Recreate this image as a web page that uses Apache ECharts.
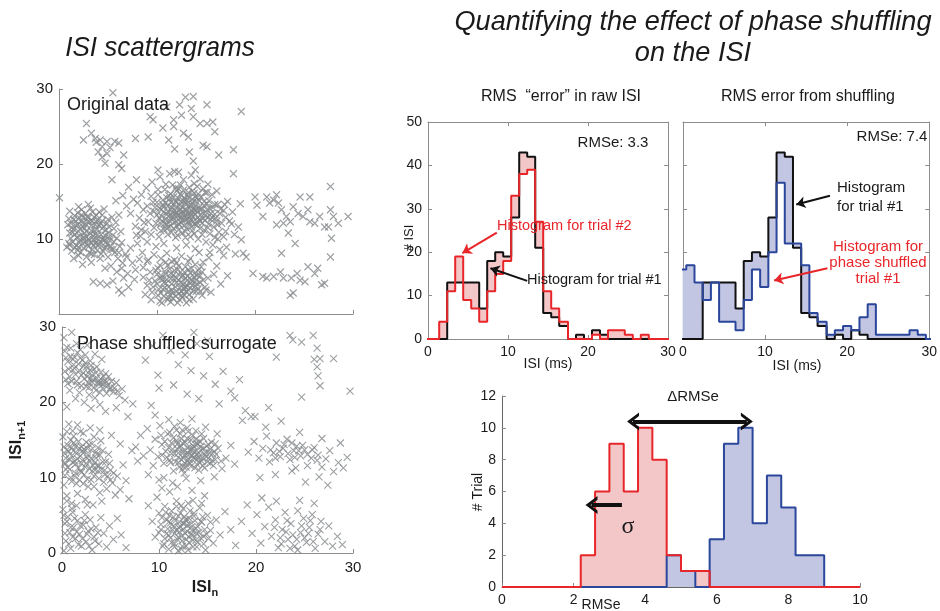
<!DOCTYPE html>
<html>
<head>
<meta charset="utf-8">
<script src="https://cdn.jsdelivr.net/npm/echarts@6.0.0/dist/echarts.min.js"></script>
<style>
html, body { margin: 0; padding: 0; background: #fff; }
#mychart { width: 940px; height: 611px; }
</style>
</head>
<body>
<div id="mychart"></div>
<script>
// ---- scattergram: original data ----
var origClusterA = [[1.2,12.1],[1.5,11.3],[1.8,10.2],[1.4,9.6],[2.1,12.8],[2.4,11.7],[2.6,10.8],[2.2,9.9],[2.9,9.2],[3.1,12.3],[3.3,11.1],[3.5,10.4],[3.0,10.0],[3.8,9.6],[2.7,13.4],[3.6,12.9],[4.1,11.8],[4.3,10.6],[4.0,9.1],[4.6,9.8],[4.8,11.2],[5.1,10.3],[5.3,9.0],[4.5,8.4],[3.4,8.6],[2.5,8.8],[1.9,8.5],[1.1,10.8],[0.9,11.9],[1.6,13.1],[2.3,13.9],[3.2,14.1],[4.4,13.2],[5.0,12.6],[5.6,11.4],[5.9,10.1],[6.2,9.0],[5.7,8.2],[5.0,7.6],[4.2,7.4],[3.6,7.9],[2.8,7.6],[2.0,7.8],[1.3,8.4],[1.0,9.4],[2.0,11.0],[2.8,11.9],[3.9,11.3],[4.7,10.5],[3.3,9.5],[2.5,10.2],[1.7,12.4],[3.8,12.3],[4.9,9.3],[5.5,8.6],[6.0,7.4],[6.5,6.8],[6.8,8.0],[6.3,11.0],[5.4,12.9],[4.6,14.0],[3.0,14.6],[2.0,14.3],[1.1,13.7],[0.8,8.9],[1.5,7.4],[2.4,6.6],[3.3,6.9],[3.7,10.7],[4.4,12.4]];
var origCoreA = [[1.3,11.5],[1.6,10.6],[1.9,11.9],[2.1,10.4],[2.3,12.4],[2.4,9.4],[2.6,11.4],[2.8,10.3],[3.0,12.8],[3.1,9.8],[3.3,11.8],[3.5,9.1],[3.6,11.1],[3.9,10.1],[4.0,12.6],[4.2,9.6],[4.4,11.4],[4.6,10.1],[4.8,8.9],[5.1,11.6],[1.2,10.1],[1.8,9.1],[2.2,8.2],[3.1,8.2],[3.9,8.5],[5.2,9.8],[5.6,9.6],[2.9,13.0],[4.1,13.6],[1.9,13.5],[1.0,12.7],[2.5,12.9],[3.4,13.6],[4.9,12.1],[5.8,12.2],[2.7,9.6],[3.7,9.4],[1.6,8.9],[6.1,8.2],[4.3,8.0]];
var origCoreA2 = [[1.4,10.9],[1.7,11.8],[2.0,9.6],[2.2,11.3],[2.4,12.1],[2.6,10.1],[2.8,11.0],[3.0,9.0],[3.2,10.7],[3.4,12.4],[3.5,9.9],[3.7,11.9],[3.9,10.5],[4.1,9.3],[4.2,12.1],[4.4,10.0],[4.6,11.7],[4.8,9.6],[5.0,10.8],[5.3,8.6],[1.5,12.6],[2.3,13.2],[3.8,13.2],[1.1,9.2],[2.0,8.9],[3.3,8.0],[4.6,8.8],[5.5,10.5],[6.4,9.5],[2.9,12.3]];
var origBridge = [[6.4,6.1],[7.0,5.4],[7.5,6.8],[7.8,5.9],[8.2,7.3],[6.9,7.6],[7.3,8.8],[8.0,9.4],[8.5,8.2],[7.7,4.6],[6.6,4.8],[5.9,5.6],[5.3,6.4],[4.7,6.1],[6.1,3.2],[6.4,2.8],[7.1,3.6],[5.5,4.4],[3.5,4.3],[4.2,4.1],[4.9,3.9],[8.6,6.2],[9.0,7.0],[7.9,10.5],[8.4,11.2]];
var origClusterC = [[8.6,4.9],[9.0,3.8],[9.3,5.6],[9.5,2.9],[9.8,4.4],[10.1,6.1],[10.2,3.3],[10.5,5.0],[10.7,2.4],[10.9,4.1],[11.1,6.5],[11.2,3.0],[11.4,5.4],[11.6,2.1],[11.7,4.7],[11.9,3.6],[12.1,5.9],[12.2,2.7],[12.4,4.2],[12.6,5.1],[12.8,3.3],[12.9,6.3],[13.1,4.5],[13.3,2.6],[13.4,5.5],[13.6,3.8],[13.8,4.9],[14.0,3.0],[14.2,5.8],[14.4,4.2],[14.6,2.5],[14.9,3.6],[15.2,4.8],[15.5,2.9],[15.8,5.3],[9.1,7.2],[9.7,7.9],[10.4,7.4],[11.0,8.1],[11.8,7.2],[12.5,7.7],[13.2,7.0],[13.9,6.6],[14.7,6.9],[15.3,7.5],[16.1,6.4],[16.5,4.0],[8.8,2.6],[9.4,1.9],[10.3,1.7],[11.4,1.6],[12.3,1.9],[13.0,1.5],[13.7,2.0],[10.0,5.3],[10.8,3.5],[11.5,4.0],[12.0,4.8],[12.7,4.0],[13.5,4.6],[14.1,4.0],[11.3,2.6],[12.5,3.0],[10.6,4.6],[13.0,3.9],[17.2,5.1],[16.8,7.8],[14.3,8.2]];
var origCoreC = [[9.6,3.6],[9.9,5.8],[10.1,2.5],[10.3,4.8],[10.6,3.3],[10.8,5.7],[11.0,4.6],[11.2,2.2],[11.3,6.0],[11.5,3.2],[11.7,5.2],[11.9,2.4],[12.0,4.2],[12.2,6.4],[12.3,3.5],[12.5,4.9],[12.6,2.2],[12.8,5.6],[12.9,3.6],[13.1,5.0],[13.2,3.2],[13.4,4.1],[13.5,6.1],[13.7,3.0],[13.8,5.4],[14.0,4.5],[14.2,3.4],[14.4,5.1],[14.7,4.5],[15.0,3.2],[10.9,6.9],[12.0,6.8],[13.4,7.4],[9.2,4.5],[10.5,1.5],[12.8,2.5]];
var origCoreC2 = [[10.0,4.0],[10.4,2.8],[10.7,4.2],[10.9,5.3],[11.2,3.6],[11.4,4.7],[11.6,2.8],[11.8,5.8],[12.0,3.0],[12.2,4.5],[12.4,5.6],[12.5,2.5],[12.7,3.5],[12.9,4.8],[13.0,2.9],[13.2,5.9],[13.4,3.5],[13.6,4.4],[13.9,3.7],[14.1,5.2],[14.4,3.0],[14.6,5.6],[11.1,1.9],[12.1,1.5],[13.3,1.9],[10.3,6.5],[11.5,7.0],[14.5,6.3]];
var origClusterB = [[10.0,13.2],[10.3,14.1],[10.5,12.4],[10.7,13.6],[10.9,14.8],[11.0,12.0],[11.2,13.1],[11.3,15.4],[11.5,14.2],[11.6,12.6],[11.8,13.8],[11.9,15.0],[12.0,11.7],[12.1,13.2],[12.3,14.5],[12.4,12.2],[12.5,15.8],[12.6,13.7],[12.8,12.9],[12.9,14.9],[13.0,11.4],[13.1,13.4],[13.2,16.2],[13.3,14.1],[13.5,12.5],[13.6,15.3],[13.7,13.0],[13.9,14.4],[14.0,11.9],[14.1,13.6],[14.3,15.1],[14.4,12.4],[14.6,14.0],[14.8,11.2],[14.9,13.1],[15.1,14.7],[15.3,12.0],[15.5,13.4],[15.8,11.6],[16.0,12.8],[16.3,10.9],[16.6,12.1],[17.0,11.0],[17.4,12.4],[17.9,10.6],[18.3,11.6],[16.2,14.6],[16.8,13.8],[15.6,15.9],[14.7,16.7],[13.8,17.4],[12.7,17.9],[11.6,17.2],[10.8,16.6],[10.1,15.9],[9.6,14.9],[9.3,13.4],[9.1,12.3],[9.7,11.5],[10.4,11.1],[11.1,10.6],[11.9,10.2],[12.6,10.8],[13.4,10.3],[14.2,10.0],[15.0,9.6],[15.7,9.2],[16.4,8.6],[8.6,13.9],[8.2,12.8],[8.0,14.8],[8.4,15.9],[8.9,16.8],[9.5,17.6],[10.3,18.3],[11.3,18.7],[12.2,18.9],[13.5,18.5],[14.4,18.0],[15.2,17.3],[16.1,16.4],[17.2,15.0],[17.7,13.6],[18.5,14.7],[7.6,15.3],[7.3,13.4],[7.8,11.7],[8.3,10.4],[9.0,9.6],[9.9,9.0],[10.7,9.4],[12.0,8.8],[13.0,9.2],[13.9,8.7],[15.4,8.2],[11.4,13.9],[12.2,12.6],[12.9,13.9],[13.6,13.7],[12.4,14.0],[11.7,11.4],[13.3,12.1],[14.5,13.3],[10.6,14.6],[12.0,16.4],[13.0,15.2],[11.0,11.4],[14.2,16.0],[15.9,10.2],[7.1,16.9],[7.9,17.9],[6.9,14.4],[6.5,15.8],[5.8,15.1],[6.1,13.2],[17.1,8.9],[18.0,8.0],[18.6,9.9]];
var origCoreB = [[10.2,12.8],[10.4,13.9],[10.6,15.2],[10.8,12.1],[11.0,13.3],[11.1,14.4],[11.3,12.4],[11.4,16.0],[11.5,13.0],[11.7,14.7],[11.8,12.2],[12.0,13.6],[12.1,15.5],[12.2,11.2],[12.3,13.9],[12.5,12.9],[12.6,14.3],[12.7,16.5],[12.8,11.8],[12.9,13.2],[13.0,14.6],[13.1,12.7],[13.2,15.6],[13.4,13.5],[13.5,11.6],[13.6,14.8],[13.7,12.3],[13.8,16.1],[13.9,13.3],[14.0,15.0],[14.2,12.9],[14.3,14.2],[14.4,11.4],[14.5,15.6],[14.7,12.7],[14.8,14.5],[15.0,13.6],[15.2,11.5],[15.3,15.1],[15.5,12.6],[15.7,14.2],[15.9,13.3],[16.2,11.9],[16.4,13.4],[9.8,14.2],[9.9,12.1],[10.1,16.6],[10.9,17.3],[11.9,16.8],[12.4,17.2],[13.3,16.9],[14.1,17.0],[9.4,15.7],[9.0,14.4],[8.7,12.2],[9.4,10.6],[10.2,10.3],[11.4,11.8],[12.1,10.5],[12.9,10.2],[13.6,11.1],[14.6,10.6],[15.4,10.7],[16.8,10.3],[11.2,15.8],[12.8,15.4],[13.3,13.0],[12.6,12.4],[11.6,13.4],[13.9,13.9],[11.9,14.2],[12.4,15.0],[13.5,14.6],[12.2,12.0],[14.1,12.2],[10.7,11.3],[15.1,16.2],[16.9,14.6],[17.6,12.0],[8.8,11.0]];
var origCoreB2 = [[10.5,13.0],[10.7,14.3],[10.9,12.6],[11.1,13.7],[11.2,11.6],[11.4,14.9],[11.6,12.9],[11.7,15.6],[11.9,13.3],[12.0,14.9],[12.2,13.1],[12.3,11.9],[12.4,16.0],[12.6,13.3],[12.7,15.1],[12.8,12.5],[13.0,13.8],[13.1,15.9],[13.2,12.3],[13.3,14.5],[13.5,13.1],[13.6,16.4],[13.7,14.0],[13.8,12.0],[14.0,13.8],[14.1,15.5],[14.3,12.6],[14.4,13.9],[14.6,12.1],[14.8,15.0],[14.9,12.5],[15.1,13.9],[15.2,12.9],[15.4,14.1],[15.6,12.9],[15.9,14.6],[16.1,12.4],[16.5,14.0],[17.0,12.9],[11.0,15.5],[10.4,12.0],[12.2,16.7],[13.9,15.6],[14.9,16.2],[12.9,11.0],[13.8,10.7],[11.5,10.9],[10.0,14.9],[9.7,13.7],[16.2,10.0]];
var origSparse = [[5.5,29.5],[12.9,28.9],[13.7,29.0],[11.0,27.6],[12.3,27.9],[13.5,27.4],[15.1,27.9],[18.6,27.0],[9.3,26.3],[9.6,25.9],[11.7,25.9],[12.5,26.5],[13.7,26.3],[14.4,25.4],[15.1,25.4],[15.7,25.6],[10.6,24.8],[11.7,25.0],[12.7,24.1],[13.2,23.6],[9.1,23.6],[11.2,23.2],[14.7,22.5],[15.1,22.3],[15.9,24.3],[11.8,22.0],[13.3,21.6],[17.8,21.9],[16.3,21.2],[13.7,20.4],[13.9,19.2],[10.1,19.2],[17.8,18.7],[11.8,19.0],[2.8,25.4],[3.3,24.1],[3.7,23.4],[3.8,22.9],[4.2,23.2],[4.4,22.3],[2.5,23.2],[4.9,23.0],[5.7,23.0],[6.1,22.8],[4.0,21.6],[4.4,20.9],[4.9,21.4],[5.2,22.2],[4.7,20.1],[6.1,19.9],[6.4,19.4],[6.6,21.2],[7.8,23.4],[5.4,17.9],[0.05,15.5],[20.0,15.6],[21.2,15.6],[22.2,15.9],[21.5,14.8],[20.2,14.5],[20.8,13.0],[22.7,13.9],[23.2,13.0],[22.9,12.1],[22.2,11.9],[23.6,12.3],[23.9,14.3],[24.4,13.4],[24.9,13.0],[25.4,13.9],[25.6,12.3],[26.1,12.1],[26.6,13.0],[27.1,11.6],[27.7,17.0],[27.7,13.9],[28.0,13.0],[28.5,12.1],[29.5,13.0],[27.5,11.6],[24.6,15.6],[25.6,15.6],[27.7,7.6],[27.8,10.1],[22.7,8.1],[24.1,9.4],[23.4,10.8],[21.9,15.2],[22.4,14.8],[19.8,5.4],[20.8,5.0],[21.2,4.8],[21.9,5.0],[22.6,5.6],[22.9,4.8],[23.7,4.8],[24.3,5.4],[24.6,4.5],[25.1,4.3],[25.4,6.3],[26.1,5.4],[26.4,6.1],[26.8,3.9],[27.1,4.1],[23.9,2.8],[23.6,2.5],[19.1,7.6],[18.8,8.1]];

// ---- scattergram: phase shuffled surrogate ----
var shufTopLeft = [[0.3,26.8],[0.6,25.4],[0.9,27.2],[1.1,24.3],[1.3,26.0],[1.5,22.8],[1.7,25.1],[1.9,27.0],[2.0,23.6],[2.2,24.8],[2.4,26.3],[2.5,22.1],[2.7,23.9],[2.9,25.5],[3.1,22.7],[3.3,24.4],[3.5,21.6],[3.6,23.2],[3.8,22.4],[4.0,24.0],[4.2,21.9],[4.4,22.9],[4.6,21.2],[4.8,23.4],[5.0,22.0],[5.3,21.4],[5.6,22.6],[5.9,20.9],[6.2,21.8],[6.5,20.3],[0.4,23.0],[0.8,21.6],[1.4,20.5],[2.3,20.0],[3.0,19.2],[3.9,19.7],[4.5,18.8],[5.6,19.3],[6.8,18.1],[7.3,19.8],[0.2,28.6],[1.0,29.3],[2.6,27.6],[3.4,26.4],[4.1,25.7],[0.5,19.4],[1.8,21.3],[2.8,21.0],[3.4,20.6]];
var shufCoreTopLeft = [[0.4,25.9],[0.7,24.4],[0.9,26.1],[1.2,25.0],[1.4,23.7],[1.6,26.6],[1.8,24.2],[2.1,25.6],[2.3,23.1],[2.5,24.7],[2.7,22.6],[2.9,24.3],[3.1,23.6],[3.3,22.0],[3.5,23.9],[3.7,22.7],[4.0,23.1],[4.2,22.4],[4.5,23.8],[4.7,22.2],[5.1,22.8],[5.4,21.9],[0.3,24.1],[1.0,22.8],[2.0,22.2],[2.9,23.1],[3.9,21.3]];
var shufCoreTopLeft2 = [[0.5,27.3],[0.8,23.4],[1.1,25.7],[1.3,24.5],[1.6,22.3],[1.9,25.9],[2.2,23.9],[2.4,25.2],[2.6,23.4],[2.8,22.0],[3.0,24.9],[3.2,23.0],[3.6,24.7],[3.9,22.6],[4.3,23.4],[4.6,22.7],[4.9,21.7],[5.7,21.5],[0.6,22.5],[1.5,27.8]];
var shufMidLeft = [[0.1,15.4],[0.3,13.2],[0.4,11.1],[0.6,14.3],[0.8,12.4],[0.9,10.0],[1.1,16.2],[1.2,13.6],[1.4,11.8],[1.5,9.2],[1.7,14.8],[1.9,12.9],[2.0,10.7],[2.2,15.9],[2.3,13.8],[2.5,11.9],[2.6,9.8],[2.8,14.4],[3.0,12.6],[3.1,10.9],[3.3,8.8],[3.5,13.4],[3.6,11.6],[3.8,9.9],[4.0,14.9],[4.2,12.1],[4.4,10.4],[4.6,8.5],[4.8,13.1],[5.0,11.0],[5.2,9.3],[5.5,7.7],[5.7,10.2],[6.0,8.4],[6.3,11.7],[6.6,9.6],[6.9,7.2],[0.2,9.0],[0.5,7.6],[1.0,6.6],[1.6,7.9],[2.4,7.1],[3.2,6.4],[4.1,6.9],[0.7,17.1],[1.6,17.0],[2.9,16.6],[3.9,16.3],[5.1,15.6],[6.0,14.5],[7.2,13.6],[7.8,12.2],[0.3,12.0],[1.3,12.2],[2.1,12.3],[2.7,13.0],[3.4,12.0],[1.0,14.0],[2.0,14.1],[3.7,14.0]];
var shufCoreLeft = [[0.2,14.1],[0.4,12.6],[0.6,11.4],[0.7,13.5],[0.9,15.0],[1.1,12.0],[1.2,14.6],[1.4,10.6],[1.5,13.2],[1.7,11.3],[1.8,13.9],[2.0,11.9],[2.2,13.3],[2.3,10.4],[2.5,14.7],[2.6,12.6],[2.8,11.2],[3.0,13.7],[3.2,11.6],[3.3,10.2],[3.5,12.6],[3.7,10.9],[3.9,13.0],[4.1,11.1],[4.3,9.4],[4.5,12.1],[4.7,10.2],[5.0,9.7],[0.3,10.3],[1.0,9.5],[1.8,9.7],[2.7,8.8],[3.9,8.0],[0.5,16.1],[1.9,16.1]];
var shufCoreLeft2 = [[0.3,11.8],[0.5,13.7],[0.8,11.1],[1.0,12.9],[1.3,10.2],[1.4,14.1],[1.6,12.5],[1.9,10.9],[2.1,13.6],[2.4,11.4],[2.6,13.9],[2.9,12.2],[3.1,14.5],[3.4,11.0],[3.6,13.1],[3.8,11.6],[4.2,13.6],[4.4,11.0],[4.9,11.9],[5.3,10.6],[2.2,9.2],[3.0,9.7],[1.2,15.5],[3.3,15.4]];
var shufLowLeft = [[0.1,5.8],[0.3,3.9],[0.4,1.6],[0.6,4.8],[0.8,2.7],[0.9,0.6],[1.1,5.4],[1.2,3.4],[1.4,1.9],[1.6,4.3],[1.8,2.5],[2.0,0.9],[2.2,3.7],[2.4,5.1],[2.5,1.5],[2.7,2.9],[2.9,4.4],[3.1,0.4],[3.3,2.1],[3.5,3.4],[3.8,1.2],[4.0,4.7],[4.3,2.6],[4.6,0.8],[4.9,3.6],[5.3,1.8],[5.7,4.6],[6.1,2.4],[6.6,0.7],[0.2,0.3],[1.5,6.3],[0.5,6.9],[2.6,6.4]];
var shufCoreLowLeft = [[0.3,2.6],[0.5,4.2],[0.7,1.2],[0.9,3.4],[1.1,2.1],[1.3,4.6],[1.5,2.8],[1.7,1.1],[1.9,3.6],[2.1,1.9],[2.3,4.3],[2.6,2.5],[2.8,0.9],[3.0,3.2],[3.4,1.6],[3.7,2.7],[0.2,5.0],[1.0,5.9]];
var shufMid = [[7.6,14.1],[8.1,15.6],[8.4,12.9],[8.8,16.5],[9.1,13.7],[9.4,11.6],[9.6,15.1],[9.9,12.8],[10.1,16.9],[10.3,14.4],[10.5,11.9],[10.7,13.5],[10.9,15.8],[11.1,12.3],[11.3,14.6],[11.5,10.9],[11.6,13.2],[11.8,16.3],[12.0,12.0],[12.1,14.1],[12.3,15.2],[12.4,11.1],[12.6,13.0],[12.7,14.7],[12.9,12.3],[13.0,16.1],[13.2,13.6],[13.3,11.5],[13.5,14.3],[13.6,12.7],[13.8,15.1],[13.9,11.8],[14.1,13.3],[14.2,14.8],[14.4,12.2],[14.6,13.9],[14.7,11.3],[14.9,12.8],[15.1,14.4],[15.3,11.9],[15.5,13.2],[15.8,12.4],[16.1,13.9],[16.5,11.2],[16.9,12.6],[17.4,14.3],[17.8,11.8],[12.2,17.3],[13.4,17.8],[11.0,17.7],[9.6,18.3],[14.8,16.7],[16.0,15.8],[8.9,10.4],[10.0,9.7],[11.4,9.3],[12.8,9.9],[14.3,9.6],[15.7,10.1],[12.5,12.6],[13.1,12.4],[13.7,13.5],[12.0,13.3],[14.0,12.5],[12.8,11.4],[13.4,13.0],[11.9,14.5],[10.5,10.0]];
var shufCoreMid = [[10.8,12.7],[11.0,14.0],[11.3,13.2],[11.5,15.3],[11.7,12.1],[11.9,13.8],[12.1,11.4],[12.2,15.8],[12.4,13.5],[12.5,14.5],[12.7,11.9],[12.8,13.2],[13.0,14.0],[13.1,12.0],[13.3,15.0],[13.4,12.9],[13.6,14.1],[13.7,11.3],[13.9,13.0],[14.0,14.4],[14.2,12.0],[14.3,13.7],[14.5,12.6],[14.6,15.2],[14.8,13.4],[15.0,12.1],[15.2,13.3],[15.4,14.7],[15.6,11.6],[15.9,13.1],[12.9,16.6],[13.8,16.2],[11.6,16.8],[10.3,13.0],[10.2,15.6],[12.3,12.4],[13.3,13.8],[14.1,11.0],[12.6,10.6],[16.4,12.2]];
var shufCoreMid2 = [[11.2,12.0],[11.4,13.8],[11.8,14.9],[12.0,12.7],[12.2,14.3],[12.5,11.5],[12.7,13.6],[12.9,15.2],[13.1,13.1],[13.2,11.9],[13.5,13.9],[13.7,12.5],[13.9,14.6],[14.1,12.8],[14.3,14.1],[14.5,11.6],[14.7,13.0],[14.9,14.2],[15.1,12.6],[15.3,13.8],[15.5,12.3],[15.7,13.5],[12.4,16.3],[13.5,15.6],[10.6,14.8],[11.1,16.0],[14.4,15.8],[15.8,14.5]];
var shufMidLow = [[8.9,6.3],[9.3,4.2],[9.6,2.1],[9.8,7.4],[10.0,5.3],[10.2,3.1],[10.4,0.9],[10.6,6.2],[10.8,4.4],[11.0,2.3],[11.1,8.1],[11.3,5.6],[11.5,3.6],[11.6,1.2],[11.8,6.9],[12.0,4.9],[12.1,2.8],[12.3,0.5],[12.5,5.9],[12.6,3.9],[12.8,1.8],[13.0,6.6],[13.1,4.6],[13.3,2.5],[13.5,0.8],[13.6,5.3],[13.8,3.3],[14.0,1.4],[14.2,6.0],[14.4,4.1],[14.6,2.2],[14.8,0.4],[15.0,5.0],[15.3,3.0],[15.6,1.3],[15.9,4.4],[16.3,2.4],[16.8,5.5],[17.4,3.1],[17.9,1.0],[11.9,8.8],[13.4,8.3],[14.7,7.6],[10.3,8.6],[12.2,3.5],[12.9,2.9],[11.6,2.6],[13.2,3.8],[12.4,1.6],[11.2,4.0],[12.7,4.4],[13.9,2.6]];
var shufCoreLow = [[10.0,2.7],[10.3,4.7],[10.6,1.9],[10.9,3.2],[11.1,5.0],[11.3,1.4],[11.4,3.1],[11.7,4.3],[11.9,1.8],[12.0,3.4],[12.2,5.3],[12.3,2.2],[12.5,3.1],[12.6,4.8],[12.8,0.9],[12.9,3.7],[13.1,2.1],[13.2,5.6],[13.4,3.0],[13.5,1.7],[13.7,4.3],[13.9,0.8],[14.0,3.5],[14.3,2.0],[14.5,4.8],[14.7,3.1],[15.1,1.9],[11.0,0.5],[12.0,0.3],[13.0,0.4],[11.8,6.2],[13.5,7.0]];
var shufCoreLow2 = [[10.2,3.8],[10.5,1.2],[10.8,2.6],[11.0,4.1],[11.2,2.0],[11.5,4.8],[11.6,0.8],[11.8,3.0],[12.0,2.1],[12.1,4.1],[12.4,0.9],[12.5,3.9],[12.7,2.6],[12.9,4.5],[13.1,1.4],[13.3,3.4],[13.5,2.4],[13.6,4.9],[13.8,1.7],[14.1,2.7],[14.3,4.2],[14.6,1.2],[14.9,2.5],[15.3,4.1],[10.7,5.4],[12.3,6.3],[14.4,6.6]];
var shufRight = [[19.2,13.4],[19.8,14.8],[20.3,12.6],[20.7,13.9],[21.1,15.5],[21.4,12.1],[21.8,13.3],[22.1,14.6],[22.5,12.8],[22.8,13.9],[23.2,15.1],[23.5,12.4],[23.9,13.6],[24.2,14.2],[24.6,12.9],[25.0,13.7],[25.3,11.6],[25.7,12.6],[26.0,14.0],[26.4,13.0],[26.8,11.4],[27.2,12.5],[27.6,13.6],[28.0,10.8],[28.5,12.0],[29.0,11.3],[29.4,12.7],[22.0,10.4],[23.7,10.9],[25.1,9.4],[26.5,10.1],[27.4,9.0],[21.0,16.7],[24.5,16.0],[26.8,15.2],[18.6,17.6],[19.5,18.1],[20.4,10.0],[28.7,14.6],[24.1,11.3],[18.5,4.2],[19.1,6.4],[19.6,2.6],[20.1,5.1],[20.5,1.3],[20.9,3.5],[21.3,6.1],[21.6,2.2],[22.0,4.4],[22.3,0.7],[22.7,3.1],[23.0,5.4],[23.3,1.8],[23.6,3.9],[24.0,0.9],[24.3,5.6],[24.6,2.7],[24.9,4.6],[25.2,1.4],[25.5,3.4],[25.8,5.1],[26.1,0.6],[26.4,2.5],[26.7,4.2],[27.1,1.5],[27.5,3.6],[27.9,0.9],[28.4,2.2],[28.9,1.1],[22.1,6.9],[24.5,7.0],[26.0,6.6],[20.6,7.3],[23.8,2.4],[25.0,2.0],[22.5,2.0]];
var shufCoreRight = [[21.5,13.7],[22.0,12.6],[22.4,13.5],[22.9,14.4],[23.3,13.2],[23.7,14.6],[24.0,12.7],[24.4,13.6],[24.8,14.3],[25.3,13.1],[25.8,13.7],[26.3,12.3],[22.6,1.2],[23.1,2.8],[23.5,0.6],[24.2,1.8],[24.7,3.6],[25.4,2.6],[25.9,1.5],[26.6,3.1],[23.2,4.3],[21.9,3.4],[25.6,4.3],[24.3,0.4]];
var shufSparse = [[8.6,25.6],[9.3,27.5],[10.4,28.9],[11.2,26.9],[12.0,25.0],[12.7,26.3],[13.3,24.2],[13.9,27.8],[14.6,23.5],[15.2,26.1],[15.8,22.4],[16.6,24.1],[17.4,21.5],[18.3,23.0],[10.0,21.9],[11.5,22.3],[12.9,21.1],[14.1,20.5],[9.2,19.6],[16.2,19.8],[17.8,20.6],[18.9,18.9],[13.6,29.3],[9.9,23.6],[15.0,28.2],[23.5,28.9],[23.8,28.3],[25.9,28.9],[24.7,28.0],[26.3,27.2],[26.0,25.7],[26.3,24.7],[26.6,25.8],[28.0,25.8],[26.4,23.5],[26.6,22.2],[24.7,20.7],[29.7,21.5],[22.1,26.0],[21.3,19.3],[19.9,18.1],[22.6,17.5]];

// ---- ISI histograms (bin edges in ms, counts per bin) ----
var isiEdges = [-0.6, 0.4, 1.4, 2.4, 3.4, 4.4, 5.4, 6.4, 7.4, 8.4, 9.4, 10.4, 11.4, 12.4, 13.4, 14.4, 15.4, 16.4, 17.5, 18.5, 19.5, 20.5, 21.5, 22.5, 23.5, 24.6, 25.6, 26.6, 27.6, 28.6, 29.6, 30.6];
var trial1 = [0, 0, 0, 13, 13, 13, 13, 7, 18, 20, 19, 28, 43, 42, 21, 6, 5, 3, 0, 1, 0, 2, 1, 0, 0, 0, 0, 0, 0, 0, 0];
var trial2 = [0, 0, 4, 11, 19, 9, 7, 4, 11, 15, 18, 33, 38, 39, 27, 11, 7, 4, 0, 0, 0, 1, 0, 2, 2, 1, 0, 1, 0, 0, 0];
var shuffled1 = [16, 17, 13, 9, 13, 4, 4, 2, 9, 16, 12, 20, 36, 22, 22, 17, 6, 4, 1, 2, 3, 2, 5, 8, 1, 1, 1, 1, 2, 1, 0];

// ---- RMSe distributions ----
var rmseEdges = [0, 2.2, 2.6, 3.0, 3.4, 3.8, 4.2, 4.6, 5.0, 5.4, 5.8, 6.2, 6.6, 7.0, 7.4, 7.8, 8.2, 8.6, 9.0, 10];
var rmseRaw = [0, 2, 6, 9, 6, 10, 8, 2, 1, 1, 0, 0, 0, 0, 0, 0, 0, 0, 0];
var rmseShuf = [0, 0, 0, 0, 0, 0, 0, 2, 1, 0, 3, 9, 10, 4, 7, 5, 2, 2, 0];

var FONT = "'Liberation Sans', Arial, sans-serif";
var RED = '#e8262a', BLUE = '#2b479b', BLACK = '#111';
var PINK_FILL = '#f3c6c8', BLUE_FILL = '#c2c6e2';
var GRAY = '#84888b';
var AXIS = '#8c8c8c';

// step line points: each bin value held from its left edge
function steps(edges, counts) {
	var pts = [];
	for (var i = 0; i < counts.length; i++) {
		pts.push([edges[i], counts[i]]);
	}
	pts.push([edges[edges.length - 1], 0]);
	return pts;
}
// one rect per bin spanning between two histograms
function gaps(edges, a, b) {
	var out = [];
	for (var i = 0; i < a.length; i++) {
		if (a[i] != b[i]) out.push([edges[i], edges[i + 1], Math.min(a[i], b[i]), Math.max(a[i], b[i])]);
	}
	return out;
}
function fillSeries(xi, yi, data, color) {
	return {
		type: 'custom', xAxisIndex: xi, yAxisIndex: yi, data: data, silent: true, z: 1,
		encode: { x: [0, 1], y: [2, 3] },
		renderItem: function(params, api) {
			var p0 = api.coord([api.value(0), api.value(3)]);
			var p1 = api.coord([api.value(1), api.value(2)]);
			var rect = echarts.graphic.clipRectByRect({
				x: p0[0], y: p0[1], width: p1[0] - p0[0], height: p1[1] - p0[1]
			}, {
				x: params.coordSys.x, y: params.coordSys.y,
				width: params.coordSys.width, height: params.coordSys.height
			});
			return rect && { type: 'rect', shape: rect, style: { fill: color, stroke: color, lineWidth: 0.8 } };
		}
	};
}
function stepLine(xi, yi, data, color, extra) {
	var s = {
		type: 'line', xAxisIndex: xi, yAxisIndex: yi, data: data, step: 'end',
		symbol: 'none', silent: true, z: 3,
		lineStyle: { color: color, width: 2 }
	};
	for (var k in extra) s[k] = extra[k];
	return s;
}
var chevron = 'path://M0,12L10,0L20,12L16,12L10,5L4,12Z';
function arrowLine(from, to, color, width, head, both) {
	return [
		{ coord: from, symbol: both ? head : 'none', lineStyle: { color: color, width: width, type: 'solid' } },
		{ coord: to, symbol: head }
	];
}
function txt(x, y, text, size, extra) {
	var st = { text: text, fontSize: size, fontFamily: FONT, fill: '#1a1a1a', align: 'center', verticalAlign: 'middle' };
	var el = { type: 'text', x: x, y: y, z: 100, silent: true, style: st };
	for (var k in extra) {
		if (k == 'rotation' || k == 'scaleX') el[k] = extra[k];
		else st[k] = extra[k];
	}
	return el;
}

var xMark = 'path://M0,0L10,10M10,0L0,10';
function scatter(xi, data) {
	return {
		type: 'scatter', xAxisIndex: xi, yAxisIndex: xi, data: data, symbol: xMark, symbolSize: 7,
		silent: true,
		itemStyle: { color: 'rgba(0,0,0,0)', borderColor: GRAY, borderWidth: 1.1 }
	};
}

function valAxis(grid, min, max, step, pos, opts) {
	var ax = {
		type: 'value', gridIndex: grid, min: min, max: max, interval: step, position: pos,
		splitLine: { show: false },
		axisLine: { show: true, onZero: false, lineStyle: { color: AXIS, width: 1 } },
		axisTick: { show: true, inside: true, length: 4, lineStyle: { color: AXIS } },
		axisLabel: { show: true, color: '#1a1a1a', fontFamily: FONT, fontSize: 14, margin: 6 }
	};
	for (var k in opts) ax[k] = opts[k];
	return ax;
}
var noLabel = { show: false };
var scatterLabel = { color: '#1a1a1a', fontFamily: FONT, fontSize: 15, margin: 7 };

var myChart = echarts.init(document.getElementById('mychart'));
option = {
	animation: false,
	backgroundColor: '#fff',
	grid: [
		{ left: 59, top: 89, width: 294, height: 225 },
		{ left: 62, top: 327, width: 291, height: 226 },
		{ left: 428, top: 122, width: 240, height: 217 },
		{ left: 683, top: 122, width: 254, height: 217 },
		{ left: 502, top: 396, width: 358, height: 191 }
	],
	xAxis: [
		valAxis(0, 0, 30, 10, 'bottom', { axisLabel: noLabel }),
		valAxis(1, 0, 30, 10, 'bottom', { axisLabel: scatterLabel }),
		valAxis(2, 0, 30, 10, 'bottom', {}),
		valAxis(2, 0, 30, 10, 'top', { axisLabel: noLabel }),
		valAxis(3, 0, 30, 10, 'bottom', {}),
		valAxis(3, 0, 30, 10, 'top', { axisLabel: noLabel }),
		valAxis(4, 0, 10, 2, 'bottom', { axisLine: { show: true, lineStyle: { color: '#666' } } })
	],
	yAxis: [
		valAxis(0, 0, 30, 10, 'left', { axisLabel: { color: '#1a1a1a', fontFamily: FONT, fontSize: 15, margin: 6,
			formatter: function(v) { return v == 0 ? '' : v; } } }),
		valAxis(1, 0, 30, 10, 'left', { axisLabel: { color: '#1a1a1a', fontFamily: FONT, fontSize: 15, margin: 6 } }),
		valAxis(2, 0, 50, 10, 'left', {}),
		valAxis(2, 0, 50, 10, 'right', { axisLabel: noLabel }),
		valAxis(3, 0, 50, 10, 'left', { axisLabel: noLabel }),
		valAxis(3, 0, 50, 10, 'right', { axisLabel: noLabel }),
		valAxis(4, 0, 12, 2, 'left', { axisLine: { show: true, lineStyle: { color: '#666' } } })
	],
	series: [
		scatter(0, origClusterA.concat(origCoreA, origCoreA2, origBridge, origClusterC, origCoreC, origCoreC2,
			origClusterB, origCoreB, origCoreB2, origSparse)),
		scatter(1, shufTopLeft.concat(shufCoreTopLeft, shufCoreTopLeft2, shufMidLeft, shufCoreLeft, shufCoreLeft2,
			shufLowLeft, shufCoreLowLeft, shufMid, shufCoreMid, shufCoreMid2, shufMidLow, shufCoreLow, shufCoreLow2,
			shufRight, shufCoreRight, shufSparse)),

		// raw ISI: trial #1 vs trial #2
		fillSeries(2, 2, gaps(isiEdges, trial1, trial2), PINK_FILL),
		stepLine(2, 2, steps(isiEdges, trial1), BLACK, {}),
		stepLine(2, 2, steps(isiEdges, trial2), RED, {
			z: 4,
			markLine: {
				silent: true, symbolSize: 9, label: { show: false },
				data: [
					arrowLine([8.6, 24.5], [4.3, 19.8], RED, 2, 'arrow'),
					arrowLine([12.4, 13.4], [7.8, 16.3], BLACK, 2, 'arrow')
				]
			}
		}),

		// shuffling: trial #1 vs shuffled trial #1
		fillSeries(4, 4, gaps(isiEdges, trial1, shuffled1), BLUE_FILL),
		stepLine(4, 4, steps(isiEdges, trial1), BLACK, {}),
		stepLine(4, 4, steps(isiEdges, shuffled1), BLUE, {
			z: 4,
			markLine: {
				silent: true, symbolSize: 9, label: { show: false },
				data: [
					arrowLine([17.9, 33.0], [13.8, 31.0], BLACK, 2, 'arrow'),
					arrowLine([17.6, 16.3], [11.1, 13.5], RED, 2, 'arrow')
				]
			}
		}),

		// RMSe distributions
		stepLine(6, 6, steps(rmseEdges, rmseRaw), RED, { z: 2, lineStyle: { width: 0 }, areaStyle: { color: PINK_FILL, opacity: 1 } }),
		stepLine(6, 6, steps(rmseEdges, rmseShuf), BLUE, { z: 3, areaStyle: { color: BLUE_FILL, opacity: 1 } }),
		stepLine(6, 6, steps(rmseEdges, rmseRaw), RED, {
			z: 4,
			markLine: {
				silent: true, symbolSize: [18, 12], label: { show: false },
				data: [
					arrowLine([3.66, 10.4], [6.84, 10.4], BLACK, 4, chevron, true),
					arrowLine([3.35, 5.15], [2.5, 5.15], BLACK, 4, chevron)
				]
			}
		})
	],
	graphic: [
		txt(160, 48, 'ISI scattergrams', 28, { fontStyle: 'italic', scaleX: 0.93 }),
		txt(693, 22, 'Quantifying the effect of phase shuffling', 28, { fontStyle: 'italic', scaleX: 0.97 }),
		txt(693, 53, 'on the ISI', 28, { fontStyle: 'italic', scaleX: 0.97 }),
		txt(561, 97, 'RMS  \u201cerror\u201d in raw ISI', 16),
		txt(808, 97, 'RMS error from shuffling', 16),
		txt(67, 105, 'Original data', 18, { align: 'left' }),
		txt(77, 344, 'Phase shuffled surrogate', 18, { align: 'left' }),
		txt(17, 440, '{a|ISI}{b|n+1}', 16, { rotation: Math.PI / 2, rich: {
			a: { fontSize: 16, fontWeight: 'bold', fontFamily: FONT, fill: '#1a1a1a' },
			b: { fontSize: 11, fontWeight: 'bold', fontFamily: FONT, fill: '#1a1a1a', padding: [9, 0, 0, 0] } } }),
		txt(205, 588, '{a|ISI}{b|n}', 16, { rich: {
			a: { fontSize: 16, fontWeight: 'bold', fontFamily: FONT, fill: '#1a1a1a' },
			b: { fontSize: 11, fontWeight: 'bold', fontFamily: FONT, fill: '#1a1a1a', padding: [9, 0, 0, 0] } } }),
		txt(613, 143, 'RMSe: 3.3', 15),
		txt(892, 137, 'RMSe: 7.4', 15),
		txt(497, 226, 'Histogram for trial #2', 14.5, { align: 'left', fill: RED }),
		txt(527, 280, 'Histogram for trial #1', 14.5, { align: 'left' }),
		txt(837, 197, 'Histogram\nfor trial #1', 15, { align: 'left', lineHeight: 19 }),
		txt(878, 263, 'Histogram for\nphase shuffled\ntrial #1', 15, { fill: RED, lineHeight: 16 }),
		txt(409, 238, '# ISI', 13, { rotation: Math.PI / 2 }),
		txt(548, 364, 'ISI (ms)', 14),
		txt(797, 366, 'ISI (ms)', 14),
		txt(693, 397, '\u0394RMSe', 15),
		txt(628, 527, '\u03c3', 24, { fontFamily: "'Liberation Serif', 'DejaVu Serif', serif" }),
		txt(601, 605, 'RMSe', 14),
		txt(478, 492, '# Trial', 14, { rotation: Math.PI / 2 })
	]
};
myChart.setOption(option);
window.onresize = myChart.resize;
</script>
</body>
</html>
